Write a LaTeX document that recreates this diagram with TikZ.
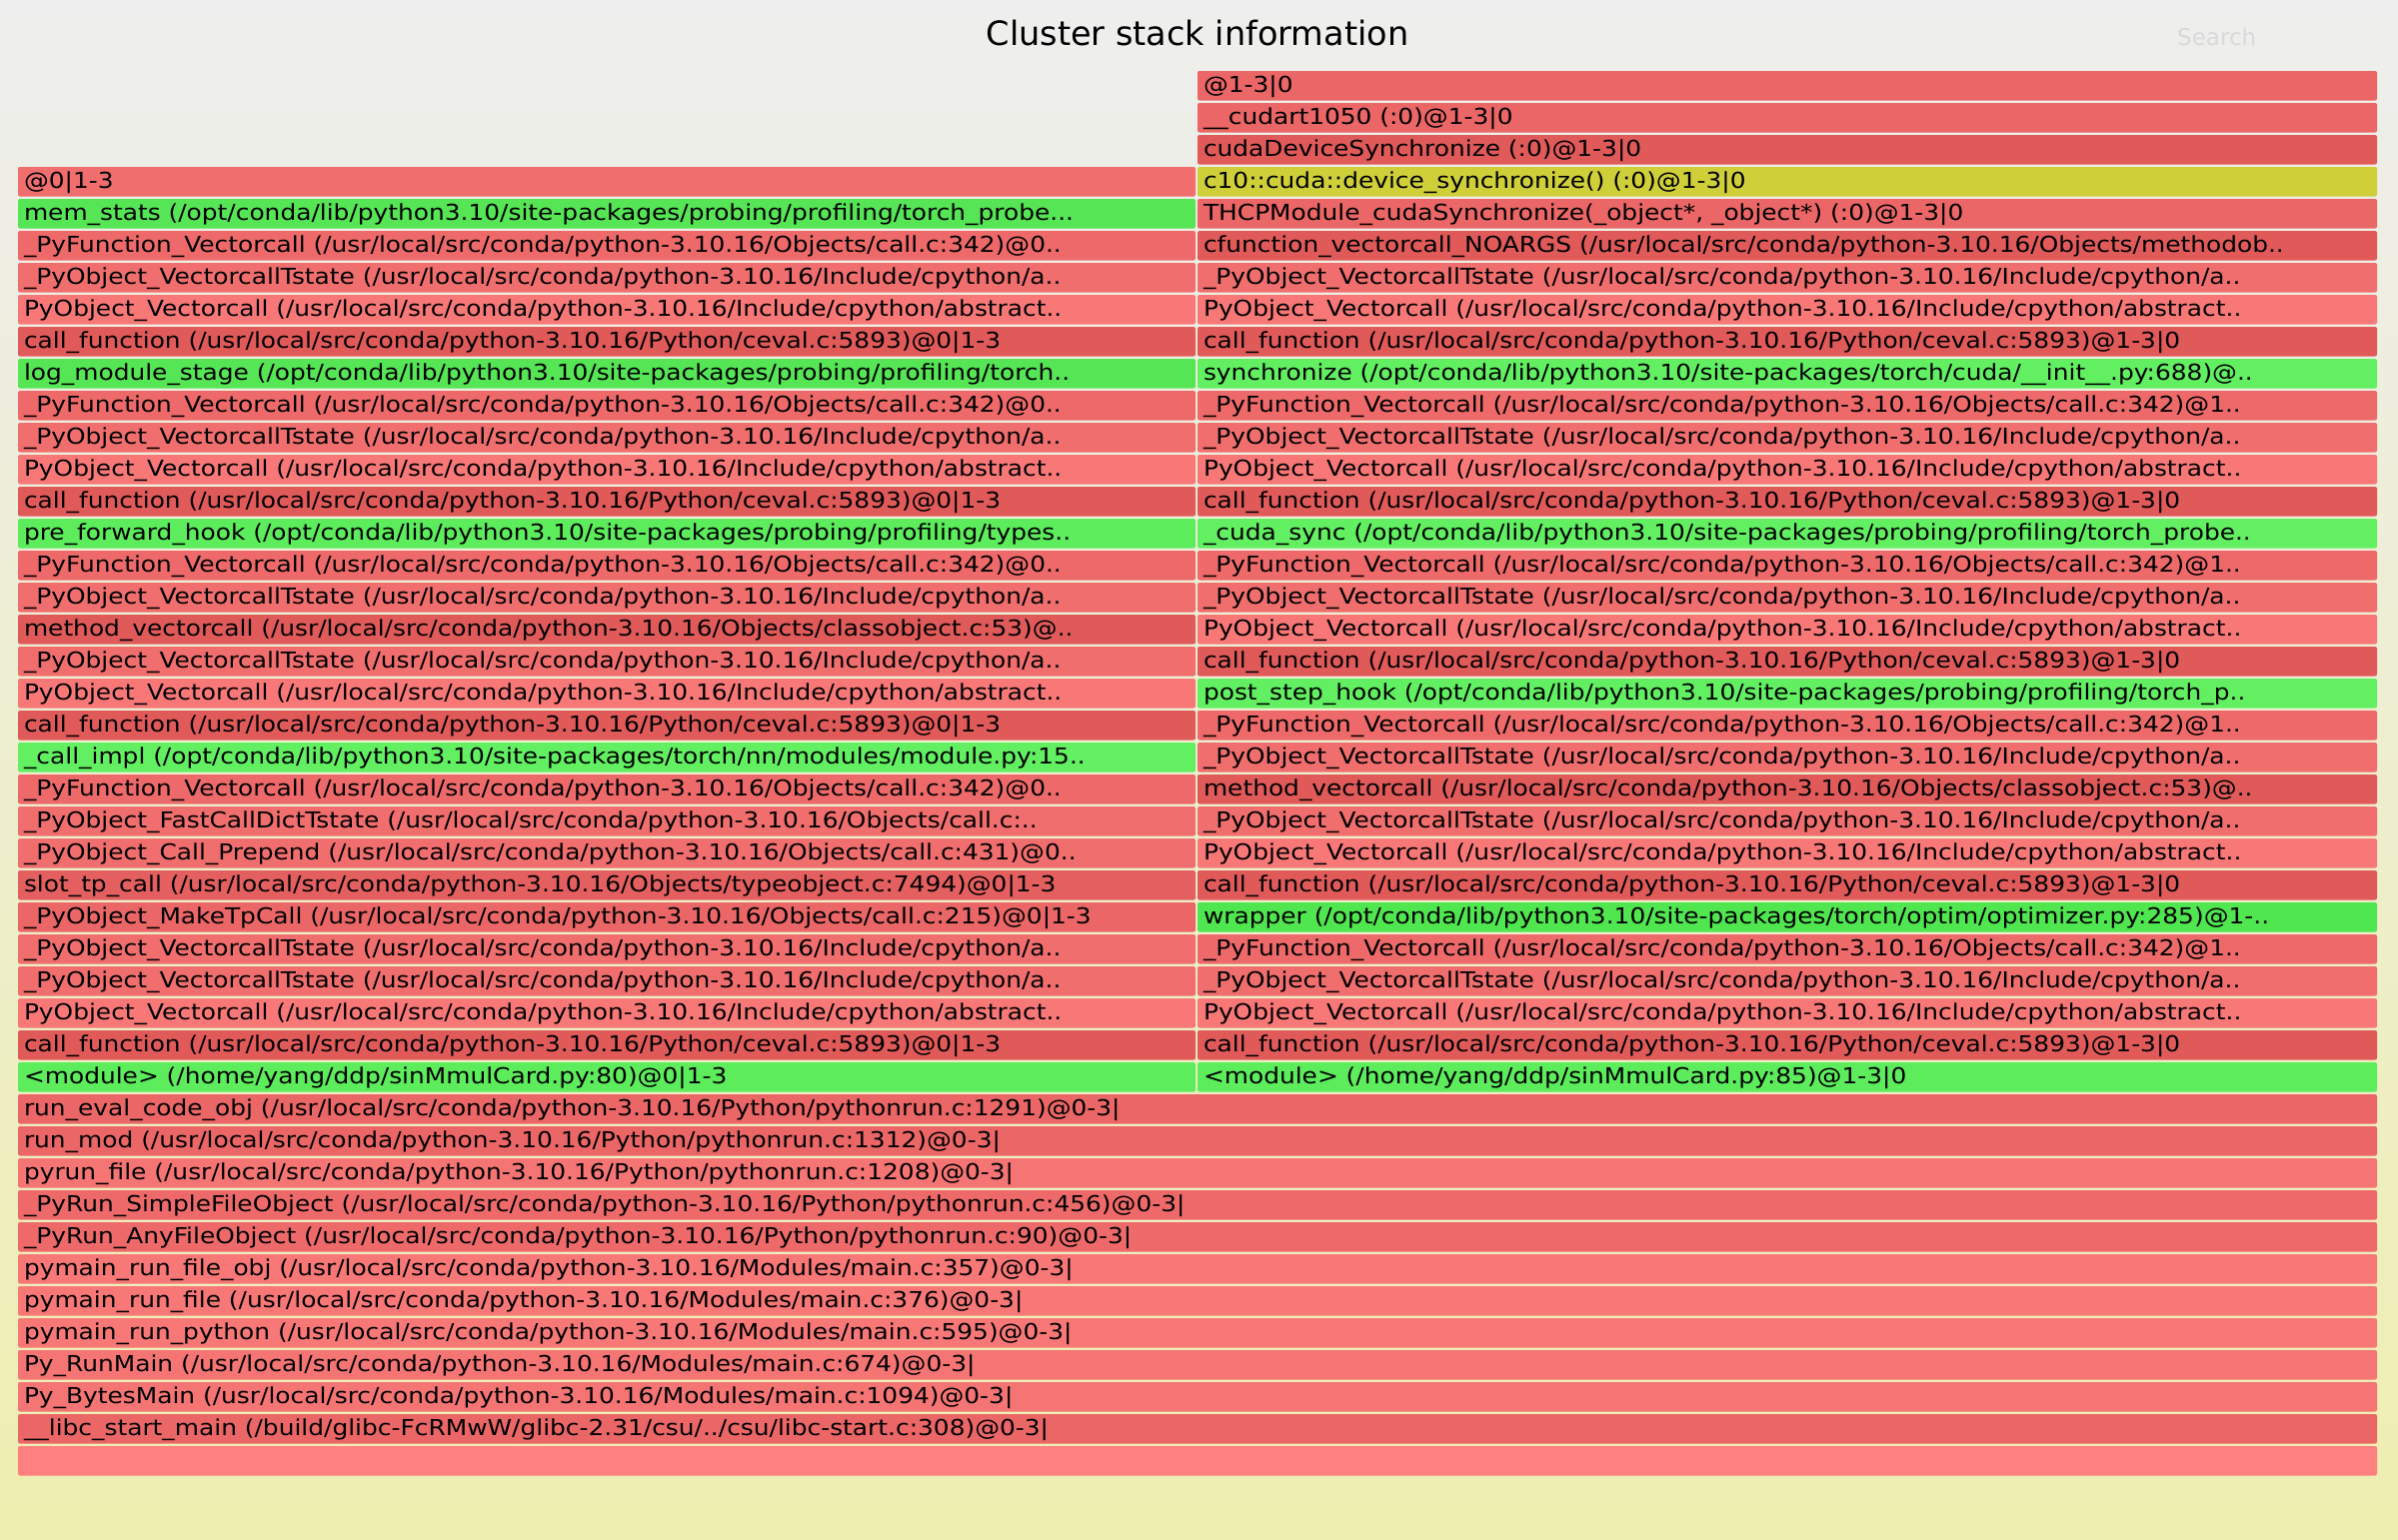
\documentclass[tikz,border=0pt]{standalone}
\usepackage{fontspec}
\setmainfont{DejaVu Sans}
\newfontfamily\framefont{DejaVu Sans}[FakeStretch=1.13]
\usetikzlibrary{calc}

% frame palette
\definecolor{bgtop}{HTML}{EEEEEE}
\definecolor{bgbot}{HTML}{EEEEB0}
\definecolor{rdark}{HTML}{E05A5A}
\definecolor{rmid}{HTML}{EB6666}
\definecolor{rfunc}{HTML}{EE6A6A}
\definecolor{rstate}{HTML}{F06E6E}
\definecolor{rlight}{HTML}{F87878}
\definecolor{rlight2}{HTML}{F57474}
\definecolor{rslot}{HTML}{E45F5F}
\definecolor{rroot}{HTML}{FF8080}
\definecolor{gpy}{HTML}{5CEC5C}
\definecolor{gbright}{HTML}{62F062}
\definecolor{gdeep}{HTML}{55E555}
\definecolor{gwrap}{HTML}{50E650}
\definecolor{ycpp}{HTML}{CFCF3A}
\definecolor{searchgray}{HTML}{D9D9D9}

\tikzset{
  framebox/.style={rectangle, rounded corners=2pt, inner sep=0pt, outer sep=0pt,
    minimum height=29.5pt},
  framelabel/.style={inner sep=0pt, outer sep=0pt, text=black,
    font=\framefont\fontsize{22pt}{26pt}\selectfont},
}

% #1 name, #2 left x, #3 right x, #4 stack row, #5 fill, #6 label
\newcommand\fgframe[6]{%
  \node[framebox, fill=#5, minimum width={(#3-#2)*1pt}, anchor=north west]
    (#1) at (#2,{71+32*#4}) {};
  \node[framelabel, anchor=base west] (#1-label) at ({#2+6},{71+32*#4+21.5}) {#6};
}
\newcommand\lf[4]{\fgframe{#1}{18}{1196}{#2}{#3}{#4}}
\newcommand\rf[4]{\fgframe{#1}{1198}{2378}{#2}{#3}{#4}}
\newcommand\ff[4]{\fgframe{#1}{18}{2378}{#2}{#3}{#4}}

\begin{document}
\begin{tikzpicture}[x=1pt,y=-1pt]
\useasboundingbox (0,0) rectangle (2399,1540);
\shade[top color=bgtop, bottom color=bgbot] (0,0) rectangle (2399,1540);

\node[anchor=base, inner sep=0pt, font=\fontsize{33.5pt}{40pt}\selectfont] (title) at (1198,45) {Cluster stack information};
\node[anchor=base west, inner sep=0pt, text=searchgray, font=\fontsize{23pt}{28pt}\selectfont] (search) at (2178,45) {Search};

% right stack (ranks 1-3)
\rf{R0}{0}{rmid}{@1-3|0}
\rf{R1}{1}{rmid}{\_\_cudart1050 (:0)@1-3|0}
\rf{R2}{2}{rdark}{cudaDeviceSynchronize (:0)@1-3|0}
\rf{R3}{3}{ycpp}{c10::cuda::device\_synchronize() (:0)@1-3|0}
\rf{R4}{4}{rmid}{THCPModule\_cudaSynchronize(\_object*, \_object*) (:0)@1-3|0}
\rf{R5}{5}{rdark}{cfunction\_vectorcall\_NOARGS (/usr/local/src/conda/python-3.10.16/Objects/methodob..}
\rf{R6}{6}{rstate}{\_PyObject\_VectorcallTstate (/usr/local/src/conda/python-3.10.16/Include/cpython/a..}
\rf{R7}{7}{rlight}{PyObject\_Vectorcall (/usr/local/src/conda/python-3.10.16/Include/cpython/abstract..}
\rf{R8}{8}{rdark}{call\_function (/usr/local/src/conda/python-3.10.16/Python/ceval.c:5893)@1-3|0}
\rf{R9}{9}{gbright}{synchronize (/opt/conda/lib/python3.10/site-packages/torch/cuda/\_\_init\_\_.py:688)@..}
\rf{R10}{10}{rfunc}{\_PyFunction\_Vectorcall (/usr/local/src/conda/python-3.10.16/Objects/call.c:342)@1..}
\rf{R11}{11}{rstate}{\_PyObject\_VectorcallTstate (/usr/local/src/conda/python-3.10.16/Include/cpython/a..}
\rf{R12}{12}{rlight}{PyObject\_Vectorcall (/usr/local/src/conda/python-3.10.16/Include/cpython/abstract..}
\rf{R13}{13}{rdark}{call\_function (/usr/local/src/conda/python-3.10.16/Python/ceval.c:5893)@1-3|0}
\rf{R14}{14}{gbright}{\_cuda\_sync (/opt/conda/lib/python3.10/site-packages/probing/profiling/torch\_probe..}
\rf{R15}{15}{rfunc}{\_PyFunction\_Vectorcall (/usr/local/src/conda/python-3.10.16/Objects/call.c:342)@1..}
\rf{R16}{16}{rstate}{\_PyObject\_VectorcallTstate (/usr/local/src/conda/python-3.10.16/Include/cpython/a..}
\rf{R17}{17}{rlight}{PyObject\_Vectorcall (/usr/local/src/conda/python-3.10.16/Include/cpython/abstract..}
\rf{R18}{18}{rdark}{call\_function (/usr/local/src/conda/python-3.10.16/Python/ceval.c:5893)@1-3|0}
\rf{R19}{19}{gbright}{post\_step\_hook (/opt/conda/lib/python3.10/site-packages/probing/profiling/torch\_p..}
\rf{R20}{20}{rfunc}{\_PyFunction\_Vectorcall (/usr/local/src/conda/python-3.10.16/Objects/call.c:342)@1..}
\rf{R21}{21}{rstate}{\_PyObject\_VectorcallTstate (/usr/local/src/conda/python-3.10.16/Include/cpython/a..}
\rf{R22}{22}{rdark}{method\_vectorcall (/usr/local/src/conda/python-3.10.16/Objects/classobject.c:53)@..}
\rf{R23}{23}{rstate}{\_PyObject\_VectorcallTstate (/usr/local/src/conda/python-3.10.16/Include/cpython/a..}
\rf{R24}{24}{rlight}{PyObject\_Vectorcall (/usr/local/src/conda/python-3.10.16/Include/cpython/abstract..}
\rf{R25}{25}{rdark}{call\_function (/usr/local/src/conda/python-3.10.16/Python/ceval.c:5893)@1-3|0}
\rf{R26}{26}{gwrap}{wrapper (/opt/conda/lib/python3.10/site-packages/torch/optim/optimizer.py:285)@1-..}
\rf{R27}{27}{rfunc}{\_PyFunction\_Vectorcall (/usr/local/src/conda/python-3.10.16/Objects/call.c:342)@1..}
\rf{R28}{28}{rstate}{\_PyObject\_VectorcallTstate (/usr/local/src/conda/python-3.10.16/Include/cpython/a..}
\rf{R29}{29}{rlight}{PyObject\_Vectorcall (/usr/local/src/conda/python-3.10.16/Include/cpython/abstract..}
\rf{R30}{30}{rdark}{call\_function (/usr/local/src/conda/python-3.10.16/Python/ceval.c:5893)@1-3|0}
\rf{R31}{31}{gpy}{<module> (/home/yang/ddp/sinMmulCard.py:85)@1-3|0}

% left stack (rank 0)
\lf{L3}{3}{rstate}{@0|1-3}
\lf{L4}{4}{gdeep}{mem\_stats (/opt/conda/lib/python3.10/site-packages/probing/profiling/torch\_probe...}
\lf{L5}{5}{rfunc}{\_PyFunction\_Vectorcall (/usr/local/src/conda/python-3.10.16/Objects/call.c:342)@0..}
\lf{L6}{6}{rstate}{\_PyObject\_VectorcallTstate (/usr/local/src/conda/python-3.10.16/Include/cpython/a..}
\lf{L7}{7}{rlight}{PyObject\_Vectorcall (/usr/local/src/conda/python-3.10.16/Include/cpython/abstract..}
\lf{L8}{8}{rdark}{call\_function (/usr/local/src/conda/python-3.10.16/Python/ceval.c:5893)@0|1-3}
\lf{L9}{9}{gdeep}{log\_module\_stage (/opt/conda/lib/python3.10/site-packages/probing/profiling/torch..}
\lf{L10}{10}{rfunc}{\_PyFunction\_Vectorcall (/usr/local/src/conda/python-3.10.16/Objects/call.c:342)@0..}
\lf{L11}{11}{rstate}{\_PyObject\_VectorcallTstate (/usr/local/src/conda/python-3.10.16/Include/cpython/a..}
\lf{L12}{12}{rlight}{PyObject\_Vectorcall (/usr/local/src/conda/python-3.10.16/Include/cpython/abstract..}
\lf{L13}{13}{rdark}{call\_function (/usr/local/src/conda/python-3.10.16/Python/ceval.c:5893)@0|1-3}
\lf{L14}{14}{gpy}{pre\_forward\_hook (/opt/conda/lib/python3.10/site-packages/probing/profiling/types..}
\lf{L15}{15}{rfunc}{\_PyFunction\_Vectorcall (/usr/local/src/conda/python-3.10.16/Objects/call.c:342)@0..}
\lf{L16}{16}{rstate}{\_PyObject\_VectorcallTstate (/usr/local/src/conda/python-3.10.16/Include/cpython/a..}
\lf{L17}{17}{rdark}{method\_vectorcall (/usr/local/src/conda/python-3.10.16/Objects/classobject.c:53)@..}
\lf{L18}{18}{rstate}{\_PyObject\_VectorcallTstate (/usr/local/src/conda/python-3.10.16/Include/cpython/a..}
\lf{L19}{19}{rlight}{PyObject\_Vectorcall (/usr/local/src/conda/python-3.10.16/Include/cpython/abstract..}
\lf{L20}{20}{rdark}{call\_function (/usr/local/src/conda/python-3.10.16/Python/ceval.c:5893)@0|1-3}
\lf{L21}{21}{gbright}{\_call\_impl (/opt/conda/lib/python3.10/site-packages/torch/nn/modules/module.py:15..}
\lf{L22}{22}{rfunc}{\_PyFunction\_Vectorcall (/usr/local/src/conda/python-3.10.16/Objects/call.c:342)@0..}
\lf{L23}{23}{rstate}{\_PyObject\_FastCallDictTstate (/usr/local/src/conda/python-3.10.16/Objects/call.c:..}
\lf{L24}{24}{rstate}{\_PyObject\_Call\_Prepend (/usr/local/src/conda/python-3.10.16/Objects/call.c:431)@0..}
\lf{L25}{25}{rslot}{slot\_tp\_call (/usr/local/src/conda/python-3.10.16/Objects/typeobject.c:7494)@0|1-3}
\lf{L26}{26}{rmid}{\_PyObject\_MakeTpCall (/usr/local/src/conda/python-3.10.16/Objects/call.c:215)@0|1-3}
\lf{L27}{27}{rstate}{\_PyObject\_VectorcallTstate (/usr/local/src/conda/python-3.10.16/Include/cpython/a..}
\lf{L28}{28}{rstate}{\_PyObject\_VectorcallTstate (/usr/local/src/conda/python-3.10.16/Include/cpython/a..}
\lf{L29}{29}{rlight}{PyObject\_Vectorcall (/usr/local/src/conda/python-3.10.16/Include/cpython/abstract..}
\lf{L30}{30}{rdark}{call\_function (/usr/local/src/conda/python-3.10.16/Python/ceval.c:5893)@0|1-3}
\lf{L31}{31}{gpy}{<module> (/home/yang/ddp/sinMmulCard.py:80)@0|1-3}

% shared base of the stack
\ff{B32}{32}{rmid}{run\_eval\_code\_obj (/usr/local/src/conda/python-3.10.16/Python/pythonrun.c:1291)@0-3|}
\ff{B33}{33}{rmid}{run\_mod (/usr/local/src/conda/python-3.10.16/Python/pythonrun.c:1312)@0-3|}
\ff{B34}{34}{rlight2}{pyrun\_file (/usr/local/src/conda/python-3.10.16/Python/pythonrun.c:1208)@0-3|}
\ff{B35}{35}{rfunc}{\_PyRun\_SimpleFileObject (/usr/local/src/conda/python-3.10.16/Python/pythonrun.c:456)@0-3|}
\ff{B36}{36}{rfunc}{\_PyRun\_AnyFileObject (/usr/local/src/conda/python-3.10.16/Python/pythonrun.c:90)@0-3|}
\ff{B37}{37}{rlight}{pymain\_run\_file\_obj (/usr/local/src/conda/python-3.10.16/Modules/main.c:357)@0-3|}
\ff{B38}{38}{rlight}{pymain\_run\_file (/usr/local/src/conda/python-3.10.16/Modules/main.c:376)@0-3|}
\ff{B39}{39}{rlight}{pymain\_run\_python (/usr/local/src/conda/python-3.10.16/Modules/main.c:595)@0-3|}
\ff{B40}{40}{rlight2}{Py\_RunMain (/usr/local/src/conda/python-3.10.16/Modules/main.c:674)@0-3|}
\ff{B41}{41}{rlight2}{Py\_BytesMain (/usr/local/src/conda/python-3.10.16/Modules/main.c:1094)@0-3|}
\ff{B42}{42}{rmid}{\_\_libc\_start\_main (/build/glibc-FcRMwW/glibc-2.31/csu/../csu/libc-start.c:308)@0-3|}
\ff{B43}{43}{rroot}{}
\end{tikzpicture}
\end{document}
